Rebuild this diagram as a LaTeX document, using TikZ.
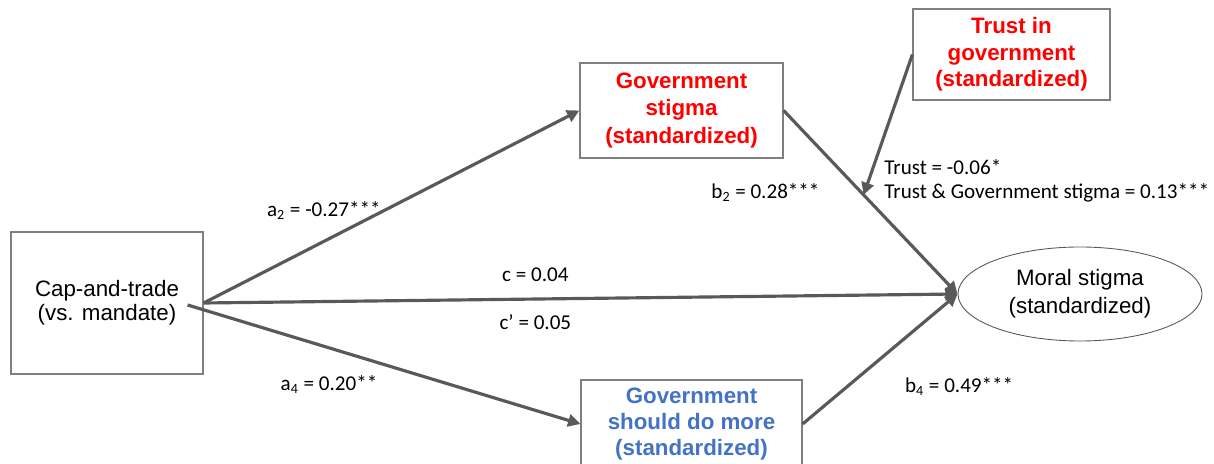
\documentclass[tikz,border=0pt]{standalone}
\usepackage{fontspec}
\setmainfont{Liberation Sans}
\newfontfamily\calibri{Carlito}
\usetikzlibrary{positioning, arrows.meta, shapes.geometric}
\definecolor{arrowgray}{HTML}{595959}
\definecolor{boxgray}{HTML}{7F7F7F}
\definecolor{stigmared}{HTML}{FF0000}
\definecolor{moreblue}{HTML}{4472C4}

\begin{document}
\begin{tikzpicture}[>={Triangle[length=7pt,width=7pt]},
    var/.style={draw=boxgray, line width=0.7pt, fill=white, align=center, inner sep=1pt,
                font=\fontsize{12.7}{15.2}\selectfont},
    coef/.style={font=\calibri\fontsize{12}{13.6}\selectfont, inner sep=0pt, text=black}]
    \useasboundingbox (0,0) rectangle (24.28,-9.28);

    % Predictor
    \node[var, minimum width=3.84cm, minimum height=2.84cm,
          font=\fontsize{12.7}{13.4}\selectfont] (cap) at (2.14,-6.06) {Cap-and-trade\\(vs. mandate)};

    % Mediators: government stigma (top), government should do more (bottom)
    \node[on grid, var, minimum width=4.06cm, minimum height=1.9cm, text=stigmared,
          font=\bfseries\fontsize{12.7}{15.6}\selectfont] (gs) [above right=3.85cm and 11.49cm of cap] {Government\\stigma\\(standardized)};
    \node[on grid, var, minimum width=4.42cm, minimum height=1.76cm, text=moreblue,
          font=\bfseries\fontsize{12.7}{15}\selectfont] (gdm) [below right=2.42cm and 11.69cm of cap] {Government\\should do more\\(standardized)};

    % Moderator
    \node[on grid, var, minimum width=3.94cm, minimum height=1.82cm, text=stigmared,
          font=\bfseries\fontsize{12.7}{15}\selectfont] (trust) [above right=1.12cm and 6.6cm of gs] {Trust in\\government\\(standardized)};

    % Outcome
    \node[on grid, var, ellipse, draw=arrowgray, line width=0.5pt, inner sep=0pt, minimum width=4.88cm, minimum height=1.88cm,
          font=\fontsize{12.7}{15.8}\selectfont] (moral) [above right=0.18cm and 19.46cm of cap] {Moral stigma\\(standardized)};

    \coordinate (capout) at ([xshift=-0.32cm, yshift=-0.04cm]cap.east);
    \path (gs.east) -- coordinate[pos=0.46] (hit) (moral.west);

    \path[->, color=arrowgray, line width=1.8pt]
    % a paths
    (cap.east) edge node[coef, pos=0.32, yshift=0.62cm] (la2) {a\textsubscript{2} = -0.27***} (gs.west)
    (capout) edge node[coef, pos=0.36, yshift=-0.74cm] (la4) {a\textsubscript{4} = 0.20**} (gdm.west)

    % direct path
    (cap.east) edge node[coef, pos=0.44, yshift=0.48cm] (lc) {c = 0.04}
                    node[coef, pos=0.44, yshift=-0.46cm] (lcp) {c’ = 0.05} (moral.west)

    % b paths
    (gs.east) edge node[coef, pos=0.445, left=0.8cm] (lb2) {b\textsubscript{2} = 0.28***} (moral.west)
    (gdm.east) edge node[coef, pos=0.29, right=1.12cm] (lb4) {b\textsubscript{4} = 0.49***} (moral.west)

    % moderation by trust
    (trust.west) edge (hit);

    \node[coef, align=left, anchor=west] (ltrust) at ([shift={(0.41cm,0.29cm)}]hit)
        {Trust = -0.06*\\Trust \& Government stigma = 0.13***};
\end{tikzpicture}
\end{document}
